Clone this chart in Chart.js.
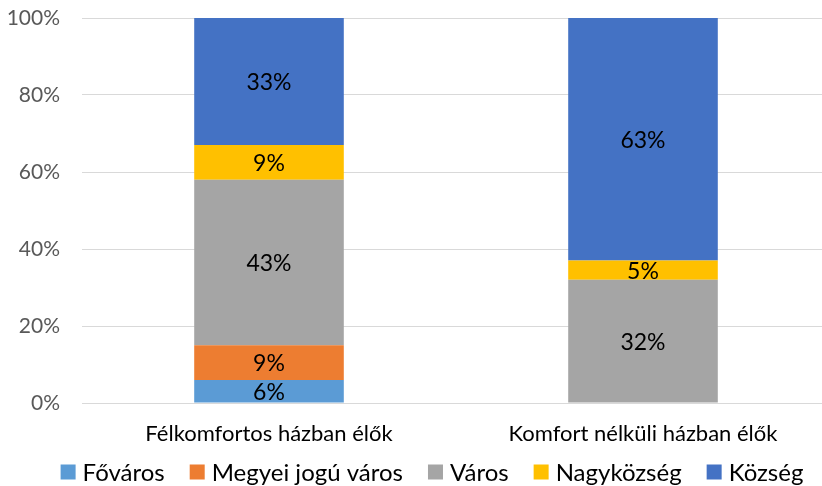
<!DOCTYPE html>
<html>
<head>
<meta charset="utf-8">
<script src="https://cdn.jsdelivr.net/npm/chart.js@4/dist/chart.umd.min.js"></script>
<style>
  html, body { margin: 0; padding: 0; background: #fff; overflow: hidden; }
  #wrap { width: 830px; height: 486px; }
</style>
</head>
<body>
<div id="wrap"><canvas id="chart"></canvas></div>
<script>
const categories = ['Félkomfortos házban élők', 'Komfort nélküli házban élők'];
const seriesNames = ['Főváros', 'Megyei jogú város', 'Város', 'Nagyközség', 'Község'];
const fovaros = [6, 0];
const megyeiJogu = [9, 0];
const varos = [43, 32];
const nagykozseg = [9, 5];
const kozseg = [33, 63];
const yTicks = [0, 20, 40, 60, 80, 100];

const colors = ['#5b9bd5', '#ed7d31', '#a5a5a5', '#ffc000', '#4472c4'];
const values = [fovaros, megyeiJogu, varos, nagykozseg, kozseg];

const FONT = 'Lato, "Open Sans", sans-serif';

// percentage labels in the middle of every non-empty segment
const segmentLabels = {
  id: 'segmentLabels',
  afterDatasetsDraw(chart) {
    const ctx = chart.ctx;
    ctx.save();
    ctx.font = '23px ' + FONT;
    ctx.fillStyle = '#000';
    ctx.textAlign = 'center';
    ctx.textBaseline = 'middle';
    chart.data.datasets.forEach((ds, i) => {
      const meta = chart.getDatasetMeta(i);
      meta.data.forEach((bar, j) => {
        const v = ds.data[j];
        if (!v) return;
        ctx.fillText(v + '%', bar.x, (bar.y + bar.base) / 2 + 1);
      });
    });
    ctx.restore();
  }
};

// one-row legend under the category labels, tighter than the built-in one
const bottomLegend = {
  id: 'bottomLegend',
  afterDraw(chart) {
    const ctx = chart.ctx;
    const box = 15, gapText = 7, gapItem = 25, cy = 472;
    ctx.save();
    ctx.font = '24px ' + FONT;
    ctx.textBaseline = 'middle';
    const items = chart.data.datasets.map(ds => ({
      text: ds.label,
      color: ds.backgroundColor,
      w: box + gapText + ctx.measureText(ds.label).width
    }));
    const total = items.reduce((s, it) => s + it.w, 0) + gapItem * (items.length - 1);
    let x = 432 - total / 2;
    items.forEach(it => {
      ctx.fillStyle = it.color;
      ctx.fillRect(x, cy - box / 2, box, box);
      ctx.fillStyle = '#000';
      ctx.fillText(it.text, x + box + gapText, cy + 1);
      x += it.w + gapItem;
    });
    ctx.restore();
  }
};

new Chart(document.getElementById('chart'), {
  type: 'bar',
  data: {
    labels: categories,
    datasets: seriesNames.map((name, i) => ({
      label: name,
      data: values[i],
      backgroundColor: colors[i],
      borderWidth: 0,
      barPercentage: 0.4,
      categoryPercentage: 1
    }))
  },
  options: {
    responsive: true,
    maintainAspectRatio: false,
    animation: false,
    layout: { padding: { top: 18, left: 0, right: 0, bottom: 38 } },
    plugins: {
      legend: { display: false },
      tooltip: { enabled: false }
    },
    scales: {
      x: {
        stacked: true,
        afterFit(scale) {
          scale.height = 45;
          scale.paddingLeft = 0;
          scale.paddingRight = 0;
        },
        grid: { display: false, drawTicks: false },
        border: { display: false },
        ticks: { color: '#000', font: { family: FONT, size: 22 }, padding: 18 }
      },
      y: {
        stacked: true,
        min: 0,
        max: 100,
        afterBuildTicks(scale) {
          scale.ticks = yTicks.map(v => ({ value: v }));
        },
        afterFit(scale) {
          // fixed axis column; label overflow fits inside the layout padding
          scale.width = 82;
          scale.paddingTop = 0;
          scale.paddingBottom = 0;
        },
        grid: { color: '#d9d9d9', lineWidth: 1, drawTicks: false },
        border: { display: false },
        ticks: {
          color: '#595959',
          font: { family: FONT, size: 21 },
          padding: 22,
          callback: v => v + '%'
        }
      }
    }
  },
  plugins: [segmentLabels, bottomLegend]
});
</script>
</body>
</html>
